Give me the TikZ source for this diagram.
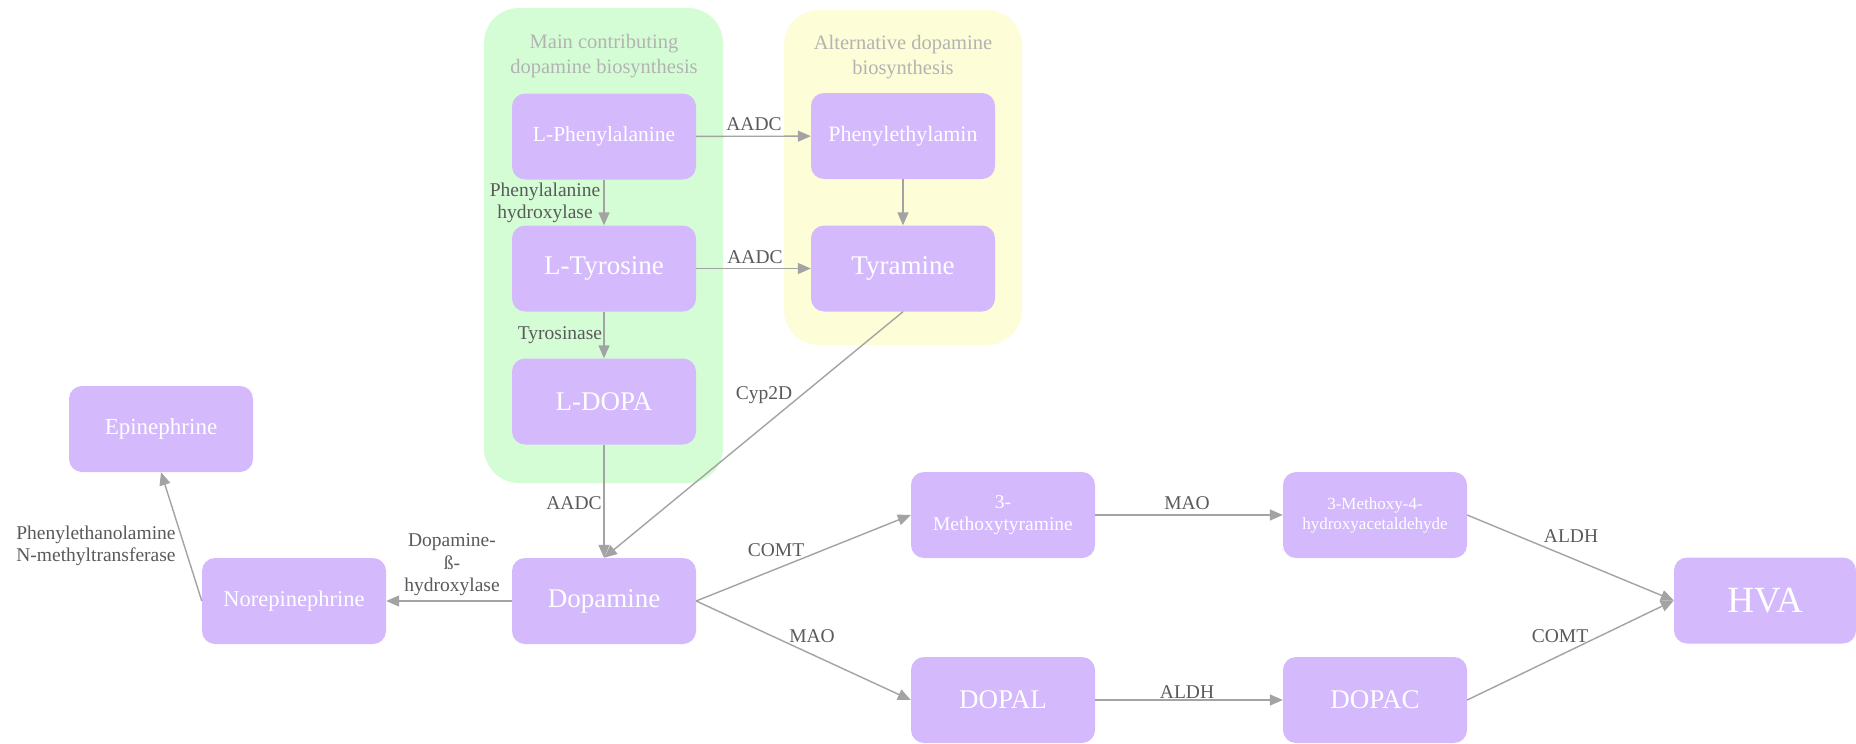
\documentclass[tikz,border=0pt]{standalone}
\usepackage{fontspec}
\setmainfont{Liberation Serif}
\usetikzlibrary{arrows.meta}
\definecolor{nodefill}{HTML}{D4B9FD}
\definecolor{greenbg}{HTML}{D5FDD5}
\definecolor{yellowbg}{HTML}{FDFDD8}
\definecolor{arrowgrey}{HTML}{A3A3A3}
\definecolor{labgrey}{HTML}{5A5A5A}
\definecolor{titlegrey}{HTML}{B3B3B3}
\begin{document}
\begin{tikzpicture}[x=1pt,y=-1pt,
  chem/.style={draw=none, fill=nodefill, rounded corners=13pt, minimum width=184pt, minimum height=86pt, text=white, align=center, inner sep=0pt},
  fs/.style={font=\fontsize{#1}{#1*1.15}\selectfont},
  conn/.style={draw=arrowgrey, line width=1.4pt, -{Triangle[length=13pt,width=11pt]}},
  lab/.style={text=labgrey, font=\fontsize{19.5}{22.5}\selectfont, align=center, inner sep=0pt},
  grouptitle/.style={text=titlegrey, font=\fontsize{20.5}{24.5}\selectfont, align=center, inner sep=0pt},
  ]
\useasboundingbox (0,0) rectangle (1856,744);
\fill[white] (0,0) rectangle (1856,744);
% groups
\fill[greenbg, rounded corners=35pt] (484,8) rectangle (723,483);
\fill[yellowbg, rounded corners=35pt] (784,10) rectangle (1022,345);
\node[grouptitle] (t1) at (604,56) {Main contributing\\dopamine biosynthesis};
\node[grouptitle] (t2) at (903,57) {Alternative dopamine\\biosynthesis};
% nodes
\node[chem, font=\fontsize{21.5}{24}\selectfont] (lphe) at (604,136.5) {L-Phenylalanine};
\node[chem, font=\fontsize{27}{30}\selectfont] (ltyr) at (604,268.5) {L-Tyrosine};
\node[chem, font=\fontsize{27}{30}\selectfont] (ldopa) at (604,401.5) {L-DOPA};
\node[chem, font=\fontsize{22}{25}\selectfont] (pea) at (903,136) {Phenylethylamin};
\node[chem, font=\fontsize{27}{30}\selectfont] (tyra) at (903,268.5) {Tyramine};
\node[chem, font=\fontsize{23}{26}\selectfont] (epi) at (161,429) {Epinephrine};
\node[chem, font=\fontsize{22.5}{25}\selectfont] (norep) at (294,601) {Norepinephrine};
\node[chem, font=\fontsize{27}{30}\selectfont] (dopa) at (604,601) {Dopamine};
\node[chem, font=\fontsize{19.5}{22.5}\selectfont] (mt) at (1003,515) {3-\\Methoxytyramine};
\node[chem, font=\fontsize{17}{20}\selectfont] (mhal) at (1375,515) {3-Methoxy-4-\\hydroxyacetaldehyde};
\node[chem, font=\fontsize{27}{30}\selectfont] (dopal) at (1003,700) {DOPAL};
\node[chem, font=\fontsize{27}{30}\selectfont] (dopac) at (1375,700) {DOPAC};
\node[chem, font=\fontsize{37}{40}\selectfont, minimum width=182pt] (hva) at (1765,600.5) {HVA};
% connectors
\draw[conn] (lphe) -- (pea);
\draw[conn] (lphe) -- (ltyr);
\draw[conn] (ltyr) -- (tyra);
\draw[conn] (ltyr) -- (ldopa);
\draw[conn] (pea) -- (tyra);
\draw[conn] (ldopa) -- (dopa);
\draw[conn] (tyra.south) -- (dopa.north);
\draw[conn] (dopa) -- (norep);
\draw[conn] (norep.west) -- (epi.south);
\draw[conn] (dopa.east) -- (mt.west);
\draw[conn] (dopa.east) -- (dopal.west);
\draw[conn] (mt) -- (mhal);
\draw[conn] (dopal) -- (dopac);
\draw[conn] (mhal.east) -- (hva.west);
\draw[conn] (dopac.east) -- (hva.west);
% labels
\node[lab] (l1) at (754,124) {AADC};
\node[lab] (l2) at (755,257) {AADC};
\node[lab] (l3) at (545,203) {Phenylalanine\\hydroxylase};
\node[lab] (l4) at (560,335) {Tyrosinase};
\node[lab] (l5) at (764,395) {Cyp2D};
\node[lab] (l6) at (574,503) {AADC};
\node[lab] (l7) at (452,565) {Dopamine-\\ß-\\hydroxylase};
\node[lab] (l8) at (96,546) {Phenylethanolamine\\N-methyltransferase};
\node[lab] (l9) at (776,550) {COMT};
\node[lab] (l10) at (812,636) {MAO};
\node[lab] (l11) at (1187,503) {MAO};
\node[lab] (l12) at (1187,692) {ALDH};
\node[lab] (l13) at (1571,536) {ALDH};
\node[lab] (l14) at (1560,636) {COMT};
\end{tikzpicture}
\end{document}
